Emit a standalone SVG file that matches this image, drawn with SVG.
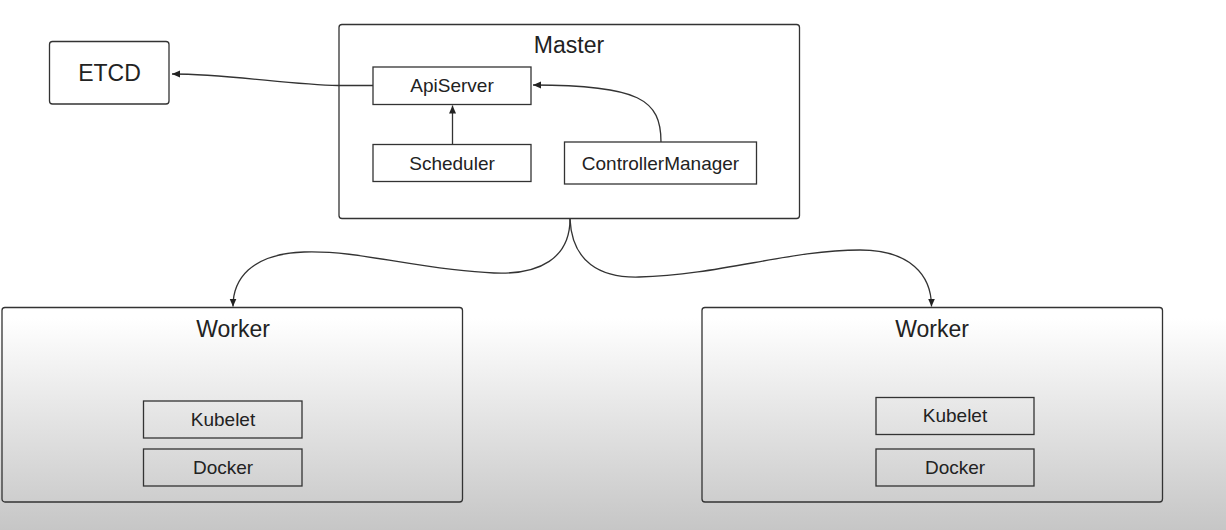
<svg xmlns="http://www.w3.org/2000/svg" width="1226" height="530" viewBox="0 0 1226 530">
<style>
.box{fill:none;stroke:#333;stroke-width:1.3}
.outer{fill:none;stroke:#333;stroke-width:1.3}
.edge{fill:none;stroke:#333;stroke-width:1.3}
text{font-family:"Liberation Sans",Arial,sans-serif;fill:#222;text-anchor:middle}
.big{font-size:23px}
.small{font-size:19px}
</style>
<defs>
<linearGradient id="bg" x1="0" y1="0" x2="0" y2="530" gradientUnits="userSpaceOnUse">
<stop offset="0.6" stop-color="#ffffff"/>
<stop offset="1" stop-color="#c6c6c6"/>
</linearGradient>
<marker id="arr" markerUnits="userSpaceOnUse" markerWidth="10" markerHeight="8" refX="8" refY="3.5" orient="auto">
<path d="M0,0 L8,3.5 L0,7 z" fill="#222"/>
</marker>
</defs>
<rect x="0" y="0" width="1226" height="530" fill="url(#bg)"/>

<g id="connectors">
<path class="edge" d="M373,85.5 L338,85.5 C290,85 230,74 172,74" marker-end="url(#arr)"/>
<path class="edge" d="M452.5,144 L452.5,105.5" marker-end="url(#arr)"/>
<path class="edge" d="M661,142 C661,100 640,85 533,85" marker-end="url(#arr)"/>
<path class="edge" d="M570,219 C570,258 540,275 494,273 C420,270 360,250 304,252 C250,254 233,280 233,306.5" marker-end="url(#arr)"/>
<path class="edge" d="M570,219 C572,262 600,278 639,277 C720,275 790,250 860,250 C910,250 931.5,275 931.5,306.5" marker-end="url(#arr)"/>
</g>

<g id="etcd">
<rect class="outer" x="49.5" y="41.5" width="119.5" height="62.5" rx="3"/>
<text class="big" x="109.5" y="81">ETCD</text>
</g>

<g id="master">
<rect class="outer" x="339" y="24.5" width="460.5" height="194" rx="3"/>
<text class="big" x="569" y="53">Master</text>
</g>
<g id="apiserver">
<rect class="box" x="373" y="67" width="158" height="37.5"/>
<text class="small" x="452" y="92">ApiServer</text>
</g>
<g id="scheduler">
<rect class="box" x="373" y="144.5" width="158" height="37"/>
<text class="small" x="452" y="169.5">Scheduler</text>
</g>
<g id="controllermanager">
<rect class="box" x="564.5" y="142" width="192" height="42"/>
<text class="small" x="660.5" y="169.5">ControllerManager</text>
</g>

<g id="worker-left">
<rect class="outer" x="2" y="307.5" width="460.5" height="194.5" rx="3"/>
<text class="big" x="233" y="336.5">Worker</text>
</g>
<g id="kubelet-left">
<rect class="box" x="143.5" y="401" width="158.5" height="37"/>
<text class="small" x="223" y="425.5">Kubelet</text>
</g>
<g id="docker-left">
<rect class="box" x="143.5" y="449" width="158.5" height="37"/>
<text class="small" x="223" y="473.5">Docker</text>
</g>

<g id="worker-right">
<rect class="outer" x="702" y="307.5" width="460.5" height="194.5" rx="3"/>
<text class="big" x="932" y="336.5">Worker</text>
</g>
<g id="kubelet-right">
<rect class="box" x="876" y="397.5" width="158" height="37"/>
<text class="small" x="955" y="422">Kubelet</text>
</g>
<g id="docker-right">
<rect class="box" x="876" y="449" width="158" height="37"/>
<text class="small" x="955" y="473.5">Docker</text>
</g>
</svg>
